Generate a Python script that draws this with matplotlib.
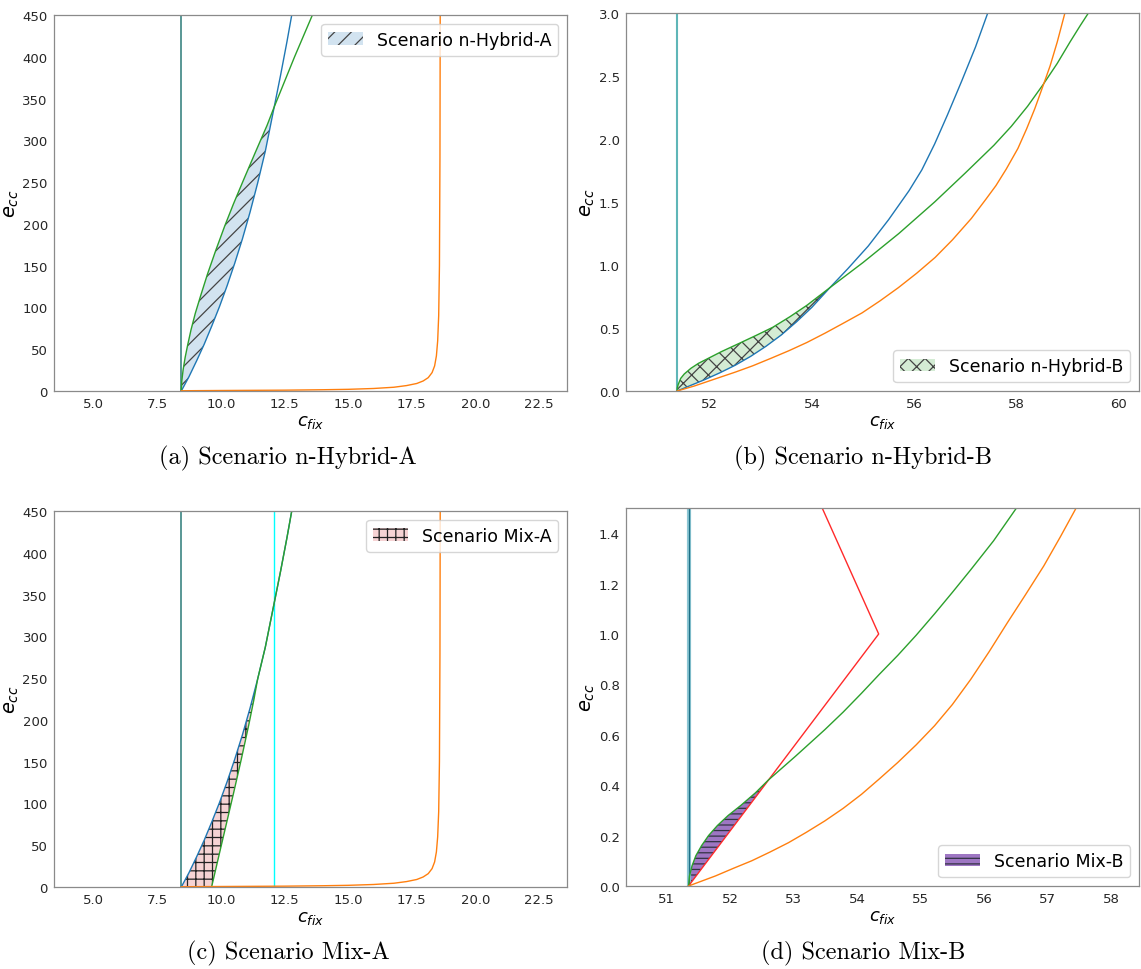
import numpy as np
import matplotlib
matplotlib.use("Agg")
import matplotlib.pyplot as plt
from matplotlib.colors import to_rgba

# ---------------- data ----------------
# Panel (a) Scenario n-Hybrid-A
a_vline = 8.45
a_blue_c = [8.45, 8.75, 9.05, 9.35, 9.65, 9.95, 10.25, 10.55, 10.85, 11.15, 11.45, 11.75, 12.1, 12.35, 12.6, 12.8]
a_blue_e = [0, 17, 36, 56, 78, 101, 126, 153, 182, 214, 249, 287, 340, 378, 418, 452]
a_green_c = [8.45, 8.47, 8.52, 8.6, 8.7, 8.83, 9.0, 9.22, 9.48, 9.8, 10.15, 10.5, 10.9, 11.35, 11.82, 12.1,
             12.5, 12.9, 13.25, 13.6]
a_green_e = [0, 12, 25, 40, 55, 73, 93, 115, 140, 168, 197, 224, 253, 285, 318, 340,
             370, 400, 425, 450]
a_orange_c = [8.45, 10.0, 12.5, 14.0, 15.0, 16.0, 16.8, 17.3, 17.7, 17.95, 18.15, 18.3, 18.4, 18.47,
              18.52, 18.56, 18.59, 18.61, 18.62]
a_orange_e = [0.3, 0.6, 1.0, 1.5, 2.0, 3.0, 4.5, 6.5, 9, 12, 16, 22, 30, 42, 60, 90, 150, 280, 450]
a_fill_top = 340

# Panel (b) Scenario n-Hybrid-B
b_vline = 51.36
b_blue_c = [51.36, 51.6, 51.9, 52.2, 52.5, 52.8, 53.1, 53.4, 53.7, 54.0, 54.35,
            54.7, 55.1, 55.5, 55.9, 56.15, 56.4, 56.65, 56.93, 57.2, 57.44]
b_blue_e = [0, 0.04, 0.09, 0.145, 0.205, 0.275, 0.355, 0.445, 0.55, 0.665, 0.82,
            0.97, 1.15, 1.36, 1.59, 1.755, 1.96, 2.19, 2.46, 2.73, 3.0]
b_green_c = [51.36, 51.365, 51.38, 51.43, 51.5, 51.63, 51.78, 51.95, 52.23, 52.57, 52.9, 53.23, 53.57,
             53.9, 54.35, 55.0, 55.7, 56.4, 57.0, 57.56, 57.9, 58.22, 58.52, 58.8, 59.05, 59.25, 59.41]
b_green_e = [0, 0.025, 0.05, 0.1, 0.135, 0.18, 0.22, 0.255, 0.313, 0.377, 0.44, 0.505, 0.59,
             0.68, 0.82, 1.02, 1.25, 1.5, 1.73, 1.95, 2.1, 2.26, 2.43, 2.6, 2.77, 2.9, 3.0]
b_orange_c = [51.36, 51.7, 52.12, 52.5, 52.84, 53.2, 53.55, 53.9, 54.26, 54.6, 54.98, 55.33, 55.69,
              56.05, 56.41, 56.75, 57.12, 57.4, 57.6, 57.8, 58.03, 58.2, 58.36, 58.52, 58.66, 58.8, 58.95]
b_orange_e = [0, 0.04, 0.098, 0.15, 0.2, 0.26, 0.32, 0.385, 0.46, 0.535, 0.62, 0.715, 0.82,
              0.935, 1.06, 1.2, 1.37, 1.52, 1.63, 1.76, 1.925, 2.08, 2.24, 2.42, 2.58, 2.77, 3.0]
b_fill_top = 0.82

# Panel (c) Scenario Mix-A
c_vline = 8.45
c_cyan = 12.1
c_blue_c = a_blue_c
c_blue_e = a_blue_e
c_green_c = [9.64, 9.9, 10.2, 10.5, 10.8, 11.1, 11.3, 11.45, 11.75, 12.1, 12.35, 12.6, 12.8]
c_green_e = [0, 34, 73, 112, 152, 194, 224, 249, 287, 340, 378, 418, 452]
c_orange_c = a_orange_c
c_orange_e = a_orange_e
c_fill_top = 249

# Panel (d) Scenario Mix-B
d_vline = 51.345
d_red_c = [51.345, 54.34, 53.45]
d_red_e = [0, 1.0, 1.5]
d_green_c = [51.345, 51.36, 51.40, 51.46, 51.55, 51.66, 51.8, 51.97, 52.17, 52.4, 52.6,
             53.03, 53.49, 53.78, 54.07, 54.35, 54.64, 54.93, 55.22, 55.5, 55.79, 56.15, 56.51]
d_green_e = [0, 0.04, 0.08, 0.12, 0.16, 0.20, 0.24, 0.28, 0.32, 0.37, 0.42,
             0.515, 0.62, 0.69, 0.765, 0.84, 0.915, 0.995, 1.08, 1.165, 1.255, 1.37, 1.5]
d_orange_c = [51.345, 51.77, 52.05, 52.34, 52.63, 52.92, 53.2, 53.49, 53.78, 54.07, 54.35, 54.64, 54.93,
              55.22, 55.5, 55.79, 56.08, 56.37, 56.65, 56.94, 57.2, 57.45]
d_orange_e = [0, 0.04, 0.07, 0.1, 0.135, 0.172, 0.213, 0.258, 0.308, 0.364, 0.425, 0.49, 0.56,
              0.636, 0.72, 0.82, 0.93, 1.046, 1.155, 1.27, 1.385, 1.5]
d_fill_top = 0.42

captions = ["(a) Scenario n-Hybrid-A", "(b) Scenario n-Hybrid-B",
            "(c) Scenario Mix-A", "(d) Scenario Mix-B"]
legend_labels = ["Scenario n-Hybrid-A", "Scenario n-Hybrid-B",
                 "Scenario Mix-A", "Scenario Mix-B"]

# ---------------- figure ----------------
W, H = 1141, 970
fig = plt.figure(figsize=(W / 100, H / 100), dpi=100)
plt.rcParams['hatch.linewidth'] = 0.9


def add_ax(l, t, r, b):
    return fig.add_axes([l / W, 1 - b / H, (r - l) / W, (b - t) / H])


def style(ax, xlim, ylim, xticks, yticks, xfmt, yfmt):
    ax.set_xlim(*xlim)
    ax.set_ylim(*ylim)
    ax.set_xticks(xticks)
    ax.set_yticks(yticks)
    ax.set_xticklabels([xfmt.format(v) for v in xticks])
    ax.set_yticklabels([yfmt.format(v) for v in yticks])
    for s in ax.spines.values():
        s.set_color('#8a8a8a')
        s.set_linewidth(0.9)
    ax.tick_params(labelsize=9.5, labelcolor='#262626', length=0, pad=4.5)
    ax.set_xlabel(r'$c_{fix}$', fontsize=13, labelpad=1)
    ax.set_ylabel(r'$e_{cc}$', fontsize=14, labelpad=1)


def region(c1, e1, c2, e2, top):
    """polygon: curve1 upward to 'top', then curve2 back down"""
    c1 = np.asarray(c1); e1 = np.asarray(e1)
    c2 = np.asarray(c2); e2 = np.asarray(e2)
    m1 = e1 <= top
    m2 = e2 <= top
    xs = np.concatenate([c1[m1], c2[m2][::-1]])
    ys = np.concatenate([e1[m1], e2[m2][::-1]])
    return xs, ys


lw = 1.0
blue, orange, green, red, purple = '#1f77b4', '#ff7f0e', '#2ca02c', '#d62728', '#9467bd'

# (a)
axA = add_ax(54, 16, 567, 392)
xs, ys = region(a_green_c, a_green_e, a_blue_c, a_blue_e, a_fill_top)
axA.fill(xs, ys, facecolor=to_rgba(blue, 0.2), edgecolor='#444444', lw=0, hatch='//',
         label=legend_labels[0])
axA.axvline(a_vline, color='#2b7b78', lw=1.1)
axA.plot(a_blue_c, a_blue_e, color=blue, lw=lw)
axA.plot(a_green_c, a_green_e, color=green, lw=lw)
axA.plot(a_orange_c, a_orange_e, color=orange, lw=lw)
style(axA, (3.45, 23.6), (0, 450), np.arange(5, 23, 2.5), np.arange(0, 451, 50), '{:.1f}', '{:.0f}')
axA.legend(loc='upper right', fontsize=12.5)

# (b)
axB = add_ax(626, 14, 1139, 392)
xs, ys = region(b_green_c, b_green_e, b_blue_c, b_blue_e, b_fill_top)
axB.fill(xs, ys, facecolor=to_rgba(green, 0.2), edgecolor='#444444', lw=0, hatch='xx',
         label=legend_labels[1])
axB.axvline(b_vline, color='#5fb6b8', lw=1.5)
axB.plot(b_blue_c, b_blue_e, color=blue, lw=lw)
axB.plot(b_green_c, b_green_e, color=green, lw=lw)
axB.plot(b_orange_c, b_orange_e, color=orange, lw=lw)
style(axB, (50.36, 60.4), (0, 3.0), np.arange(52, 61, 2), np.arange(0, 3.01, 0.5), '{:.0f}', '{:.1f}')
axB.legend(loc='lower right', fontsize=12.5)

# (c)
axC = add_ax(54, 512, 567, 888)
xs, ys = region(c_blue_c, c_blue_e, c_green_c, c_green_e, c_fill_top)
axC.fill(xs, ys, facecolor=to_rgba(red, 0.2), edgecolor='#222222', lw=0, hatch='++',
         label=legend_labels[2])
axC.axvline(c_vline, color='#2b7b78', lw=1.1)
axC.axvline(c_cyan, color='cyan', lw=1.0)
axC.plot(c_blue_c, c_blue_e, color=blue, lw=lw)
axC.plot(c_green_c, c_green_e, color=green, lw=lw)
axC.plot(c_orange_c, c_orange_e, color=orange, lw=lw)
style(axC, (3.45, 23.6), (0, 450), np.arange(5, 23, 2.5), np.arange(0, 451, 50), '{:.1f}', '{:.0f}')
axC.legend(loc='upper right', fontsize=12.5)

# (d)
axD = add_ax(626, 509, 1139, 887)
gc = np.asarray(d_green_c); ge = np.asarray(d_green_e)
m = ge <= d_fill_top
axD.fill(gc[m], ge[m], facecolor=to_rgba(purple, 0.9), edgecolor='#333344', lw=0, hatch='---',
         label=legend_labels[3])
axD.axvline(d_vline + 0.01, color='#8cc6d4', lw=3.0)
axD.axvline(d_vline, color='#1d6f84', lw=0.9)
axD.plot(d_red_c, d_red_e, color='#ff2a2a', lw=lw)
axD.plot(d_green_c, d_green_e, color=green, lw=lw)
axD.plot(d_orange_c, d_orange_e, color=orange, lw=lw)
style(axD, (50.36, 58.44), (0, 1.5), np.arange(51, 59, 1), np.arange(0, 1.41, 0.2), '{:.0f}', '{:.1f}')
axD.legend(loc='lower right', fontsize=12.5)

# captions
for (x, y), txt in zip([(288, 458), (863, 458), (288, 953), (863, 953)], captions):
    fig.text(x / W, 1 - y / H, txt, ha='center', va='center', fontfamily='cmr10', fontsize=17.5)

fig.savefig('out.png', dpi=100)
